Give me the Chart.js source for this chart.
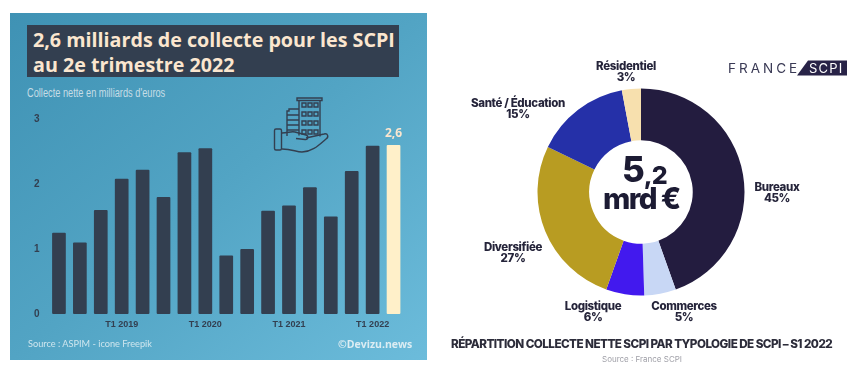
<!DOCTYPE html>
<html lang="fr">

<head>
    <meta charset="UTF-8" />
    <title>Collecte SCPI</title>
    <script src="https://cdn.jsdelivr.net/npm/chart.js"></script>
    <style>
        body {
            margin: 0;
            background: #ffffff;
            width: 857px;
            height: 378px;
            overflow: hidden;
            position: relative;
            font-family: "Open Sans", sans-serif;
            filter: blur(0.4px);
        }

        .abs {
            position: absolute;
            white-space: nowrap;
        }

        #panel {
            position: absolute;
            left: 10px;
            top: 13px;
            width: 417px;
            height: 347px;
            background: linear-gradient(140deg, #3f92b4 0%, #52a4c4 50%, #6cbcdb 100%);
        }

        #title-box {
            left: 27px;
            top: 25px;
            width: 372px;
            height: 52px;
            background: #333f50;
        }

        #title {
            left: 33px;
            top: 27px;
            color: #fbe6cf;
            font-weight: 700;
            font-size: 19.7px;
            line-height: 25px;
        }

        #subtitle {
            left: 27px;
            top: 85px;
            color: #c6dde6;
            font-family: "Liberation Sans", sans-serif;
            font-size: 13px;
            transform: scaleX(0.71);
            transform-origin: left center;
        }

        #source-left {
            left: 28px;
            top: 338px;
            color: #cfe6ee;
            font-family: Lato, sans-serif;
            font-size: 9.2px;
        }

        #credit {
            left: 338px;
            top: 337px;
            color: #dcedf3;
            font-weight: 700;
            font-size: 10.5px;
        }

        #chart-bars {
            position: absolute;
            left: 10px;
            top: 13px;
        }

        #chart-donut {
            position: absolute;
            left: 531px;
            top: 82px;
        }

        .slice-label {
            position: absolute;
            transform: translate(-50%, -50%);
            text-align: center;
            font-family: Inter, sans-serif;
            font-weight: 800;
            font-size: 11.5px;
            line-height: 10.5px;
            letter-spacing: -0.35px;
            color: #25243a;
            white-space: nowrap;
        }

        #center-num {
            left: 622px;
            top: 148px;
            font-family: Inter, sans-serif;
            font-weight: 800;
            color: #1c1b33;
            font-size: 35px;
            letter-spacing: -1px;
        }

        #center-num span {
            font-size: 25px;
            position: relative;
            top: 2px;
        }

        #center-unit {
            left: 603px;
            top: 180px;
            font-family: Inter, sans-serif;
            font-weight: 800;
            color: #1c1b33;
            font-size: 29.5px;
            letter-spacing: -1.6px;
        }

        #right-title {
            left: 451px;
            top: 337px;
            font-family: Inter, sans-serif;
            font-weight: 800;
            color: #2c2c3a;
            font-size: 11.7px;
            letter-spacing: -0.55px;
        }

        #right-source {
            left: 602px;
            top: 354px;
            font-family: Inter, sans-serif;
            color: #a0a0a8;
            font-size: 8px;
        }

        #logo-a {
            left: 728px;
            top: 60px;
            font-family: Inter, sans-serif;
            color: #3a3a55;
            font-size: 13.5px;
            letter-spacing: 3px;
        }

        #logo-b {
            left: 809px;
            top: 60px;
            font-family: Inter, sans-serif;
            color: #ffffff;
            font-size: 13px;
            letter-spacing: 1.2px;
        }
    </style>
</head>

<body>

    <div id="panel"></div>
    <div id="title-box" class="abs"></div>
    <div id="title" class="abs">2,6 milliards de collecte pour les SCPI<br>au 2e trimestre 2022</div>
    <div id="subtitle" class="abs">Collecte nette en milliards d'euros</div>

    <canvas id="chart-bars" width="417" height="347"></canvas>

    <!-- icone immeuble + main -->
    <svg class="abs" style="left:270px;top:92px" width="65" height="66" viewBox="270 92 65 66" fill="none"
        stroke="#333f50" stroke-width="1.4">
        <path d="M297 98h25v2.500h-25z" />
        <path d="M299 100.500v35M320 100.500v36" />
        <path d="M299 109h-10v2h-2v25" />
        <path d="M287 115h12M287 120h12M287 125h12M287 130h12" />
        <path d="M302 103h4v4h-4zM308 103h4v4h-4zM314 103h4v4h-4zM302 112h4v4h-4zM308 112h4v4h-4zM314 112h4v4h-4zM302 121h4v4h-4zM308 121h4v4h-4zM314 121h4v4h-4zM302 130h4v4h-4zM308 130h4v4h-4zM314 130h4v4h-4z" />
        <path d="M276 129h4a1.500 1.500 0 0 1 1.500 1.500v18a1.500 1.500 0 0 1-1.500 1.500h-4a1.500 1.500 0 0 1-1.500-1.500v-18a1.500 1.500 0 0 1 1.500-1.500z" />
        <path d="M282 133c6 0 9-2 13-1l11 3c3 1 2 5-1 4.500l-9-1" />
        <path d="M306 138l18-4c4-1 5 3 2 5-7 6-14 13-24 13-6 0-10-3-20-3" />
    </svg>

    <div id="source-left" class="abs">Source : ASPIM - icone Freepik</div>
    <div id="credit" class="abs">©Devizu.news</div>

    <canvas id="chart-donut" width="220" height="220"></canvas>
    <div id="center-num" class="abs">5<span>,2</span></div>
    <div id="center-unit" class="abs">mrd €</div>
    <div id="slice-labels"></div>

    <div id="logo-a" class="abs">FRANCE</div>
    <svg class="abs" style="left:797px;top:60px" width="50" height="16">
        <polygon points="0,15.500 11,0.500 50,0.500 50,15.500" fill="#282347" />
    </svg>
    <div id="logo-b" class="abs">SCPI</div>

    <div id="right-title" class="abs">RÉPARTITION COLLECTE NETTE SCPI PAR TYPOLOGIE DE SCPI – S1 2022</div>
    <div id="right-source" class="abs">Source : France SCPI</div>

    <script>
        // trimestres, du T2 2018 au T2 2022
        const quarters = ['', '', '', 'T1 2019', '', '', '', 'T1 2020', '', '', '', 'T1 2021', '', '', '', 'T1 2022', ''];
        const collecte = [1.25, 1.1, 1.6, 2.08, 2.22, 1.8, 2.49, 2.55, 0.9, 1.0, 1.59, 1.67, 1.95, 1.5, 2.2, 2.59, 2.6];
        const lastLabel = '2,6';

        const typologies = ['Bureaux', 'Commerces', 'Logistique', 'Diversifiée', 'Santé / Éducation', 'Résidentiel'];
        const parts = [45, 5, 6, 27, 15, 3];
        const partColors = ['#231c3f', '#c8d7f5', '#4219ee', '#b89c22', '#2530a8', '#f7e0ae'];
        // centre de chaque etiquette dans la page
        const labelSpots = [[777, 192], [684, 311], [593, 311], [513, 252], [518, 108], [626, 71]];

        const barColors = collecte.map((v, i) => i === collecte.length - 1 ? '#fff0c9' : '#333f50');

        const lastBarLabel = {
            id: 'lastBarLabel',
            afterDatasetsDraw(chart) {
                const bar = chart.getDatasetMeta(0).data[collecte.length - 1];
                const ctx = chart.ctx;
                ctx.save();
                ctx.fillStyle = '#fbe6cf';
                ctx.font = '700 12px "Open Sans"';
                ctx.textAlign = 'center';
                ctx.textBaseline = 'middle';
                ctx.fillText(lastLabel, bar.x, bar.y - 11);
                ctx.restore();
            }
        };

        new Chart(document.getElementById('chart-bars'), {
            type: 'bar',
            data: {
                labels: quarters,
                datasets: [{
                    data: collecte,
                    backgroundColor: barColors,
                    barPercentage: 0.655,
                    categoryPercentage: 1,
                    borderRadius: 1,
                    borderSkipped: false
                }]
            },
            options: {
                responsive: false,
                animation: false,
                layout: { padding: { top: 106, right: 23 } },
                plugins: { legend: { display: false }, tooltip: { enabled: false } },
                scales: {
                    x: {
                        grid: { display: false, drawTicks: false },
                        border: { display: false },
                        afterFit: scale => { scale.height = 46; },
                        ticks: {
                            autoSkip: false,
                            maxRotation: 0,
                            padding: 5,
                            color: '#333f50',
                            font: { family: 'Liberation Sans', size: 9, weight: '700' }
                        }
                    },
                    y: {
                        min: 0,
                        max: 3,
                        grid: { display: false, drawTicks: false },
                        border: { display: false },
                        afterFit: scale => { scale.width = 38.5; },
                        ticks: {
                            stepSize: 1,
                            padding: 9,
                            color: '#333f50',
                            font: { family: 'Liberation Sans', size: 10, weight: '700' }
                        }
                    }
                }
            },
            plugins: [lastBarLabel]
        });

        new Chart(document.getElementById('chart-donut'), {
            type: 'doughnut',
            data: {
                labels: typologies,
                datasets: [{
                    data: parts,
                    backgroundColor: partColors,
                    borderWidth: 0
                }]
            },
            options: {
                responsive: false,
                animation: false,
                radius: 103.5,
                cutout: '50%',
                plugins: { legend: { display: false }, tooltip: { enabled: false } }
            }
        });

        // etiquettes du donut
        const holder = document.getElementById('slice-labels');
        typologies.forEach((name, i) => {
            const el = document.createElement('div');
            el.className = 'slice-label';
            el.style.left = labelSpots[i][0] + 'px';
            el.style.top = labelSpots[i][1] + 'px';
            el.innerHTML = name + '<br>' + parts[i] + '%';
            holder.appendChild(el);
        });
    </script>

</body>

</html>
